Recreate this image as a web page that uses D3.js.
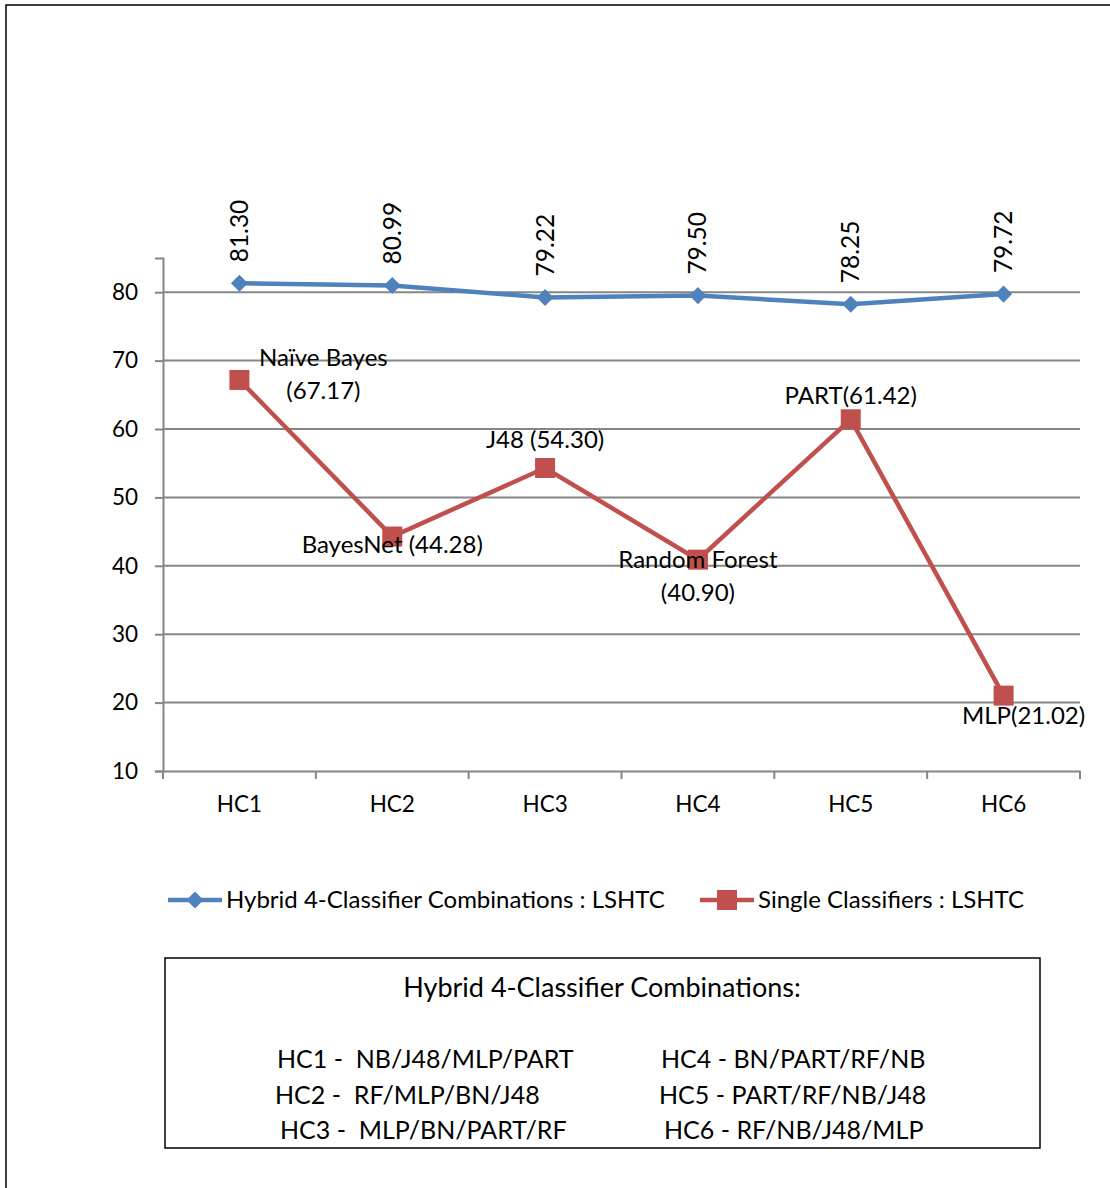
<!DOCTYPE html>
<html><head><meta charset="utf-8">
<script src="https://cdn.jsdelivr.net/npm/d3@7"></script>
<style>body{margin:0;background:#fff}svg text{font-family:Lato,"Open Sans",sans-serif;fill:#000}</style>
</head><body>
<svg id="c" width="1110" height="1188"></svg>
<script>
const categories = ["HC1","HC2","HC3","HC4","HC5","HC6"];
const hybridValues = [81.30, 80.99, 79.22, 79.50, 78.25, 79.72];
const singleValues = [67.17, 44.28, 54.30, 40.90, 61.42, 21.02];
const singleLabels = [["Naïve Bayes","(67.17)"],["BayesNet (44.28)"],["J48 (54.30)"],["Random Forest","(40.90)"],["PART(61.42)"],["MLP(21.02)"]];
const yTicks = [10,20,30,40,50,60,70,80];
const seriesNames = ["Hybrid 4-Classifier Combinations : LSHTC","Single Classifiers : LSHTC"];
const boxTitle = "Hybrid 4-Classifier Combinations:";
const boxLeft = ["HC1 -  NB/J48/MLP/PART","HC2 -  RF/MLP/BN/J48","HC3 -  MLP/BN/PART/RF"];
const boxRight = ["HC4 - BN/PART/RF/NB","HC5 - PART/RF/NB/J48","HC6 - RF/NB/J48/MLP"];

const svg = d3.select("#c");
const blue = "#4F81BD", red = "#C0504D", grid = "#868686";
svg.append("rect").attr("x",6).attr("y",5).attr("width",1110).attr("height",1190)
  .attr("fill","none").attr("stroke","#000").attr("stroke-width",1.5);

const L = 163, R = 1080, T = 258, B = 771;
const x = d3.scaleBand().domain(categories).range([L,R]);
const y = d3.scaleLinear().domain([10,85]).range([B,T]);
const cx = d => x(d) + x.bandwidth()/2;

// gridlines
svg.append("g").selectAll("line").data(yTicks.filter(t=>t>10)).join("line")
  .attr("x1",L).attr("x2",R).attr("y1",d=>y(d)).attr("y2",d=>y(d))
  .attr("stroke",grid).attr("stroke-width",2);

// y axis
const ya = svg.append("g").attr("transform",`translate(${L},0)`)
  .call(d3.axisLeft(y).tickValues(yTicks).tickSize(8).tickPadding(17).tickFormat(d3.format("d")));
ya.select(".domain").attr("stroke",grid).attr("stroke-width",2);
ya.selectAll(".tick line").attr("stroke",grid).attr("stroke-width",2);
ya.selectAll(".tick text").attr("font-size",22.5).attr("font-family","Lato");

// x axis
const xa = svg.append("g").attr("transform",`translate(0,${B})`)
  .call(d3.axisBottom(x).tickSize(0).tickPadding(25));
xa.select(".domain").attr("stroke",grid).attr("stroke-width",2);
xa.selectAll(".tick text").attr("font-size",22.5).attr("font-family","Lato");
svg.append("g").selectAll("line").data(d3.range(categories.length+1)).join("line")
  .attr("x1",i=>L+i*x.step()).attr("x2",i=>L+i*x.step()).attr("y1",B).attr("y2",B+8)
  .attr("stroke",grid).attr("stroke-width",2);

const line = d3.line().x((d,i)=>cx(categories[i])).y(d=>y(d));
svg.append("path").datum(hybridValues).attr("d",line).attr("fill","none").attr("stroke",blue).attr("stroke-width",4.5);
svg.append("path").datum(singleValues).attr("d",line).attr("fill","none").attr("stroke",red).attr("stroke-width",4.5);

const diamond = d3.symbol().type(d3.symbolDiamond2).size(185);
svg.append("g").selectAll("path").data(hybridValues).join("path")
  .attr("d",diamond).attr("transform",(d,i)=>`translate(${cx(categories[i])},${y(d)})`).attr("fill",blue);
svg.append("g").selectAll("rect").data(singleValues).join("rect")
  .attr("x",(d,i)=>cx(categories[i])-10).attr("y",d=>y(d)-10).attr("width",20).attr("height",20).attr("fill",red);

// hybrid rotated labels
svg.append("g").selectAll("text").data(hybridValues).join("text")
  .attr("transform",(d,i)=>`translate(${cx(categories[i])+8.5},${y(d)-21}) rotate(-90)`)
  .attr("font-size",24.5).text(d=>d.toFixed(2));

// single labels (offsets relative to points)
const off = [[84,-22],[0,8],[0,-28],[0,0],[0,-23],[20,20]];
singleLabels.forEach((lines,i)=>{
  const px = cx(categories[i]) + off[i][0], py = y(singleValues[i]) + off[i][1];
  lines.forEach((t,j)=>{
    svg.append("text").attr("x",px).attr("y",py + j*33 + 8).attr("text-anchor","middle")
      .attr("font-size",24).text(t);
  });
});

// legend
const lg = svg.append("g");
[[168,blue,"d"],[700,red,"s"]].forEach(([lx,col,s],i)=>{
  lg.append("line").attr("x1",lx).attr("x2",lx+54).attr("y1",900).attr("y2",900).attr("stroke",col).attr("stroke-width",4.5);
  if(s==="d") lg.append("path").attr("d",diamond).attr("transform",`translate(${lx+27},900)`).attr("fill",col);
  else lg.append("rect").attr("x",lx+17).attr("y",890).attr("width",20).attr("height",20).attr("fill",col);
  lg.append("text").attr("x",lx+58).attr("y",908).attr("font-size",24).text(seriesNames[i]);
});

// info box
svg.append("rect").attr("x",165).attr("y",958).attr("width",875).attr("height",190)
  .attr("fill","none").attr("stroke","#000").attr("stroke-width",1.5);
svg.append("text").attr("x",602).attr("y",997).attr("text-anchor","middle").attr("font-size",27).text(boxTitle);
const ys = [1068,1104,1139];
const lxs = [277,275,280], rxs = [661,659,664];
boxLeft.forEach((t,i)=>svg.append("text").attr("x",lxs[i]).attr("y",ys[i]).attr("font-size",25).style("white-space","pre").text(t));
boxRight.forEach((t,i)=>svg.append("text").attr("x",rxs[i]).attr("y",ys[i]).attr("font-size",25).style("white-space","pre").text(t));
</script>
</body></html>
